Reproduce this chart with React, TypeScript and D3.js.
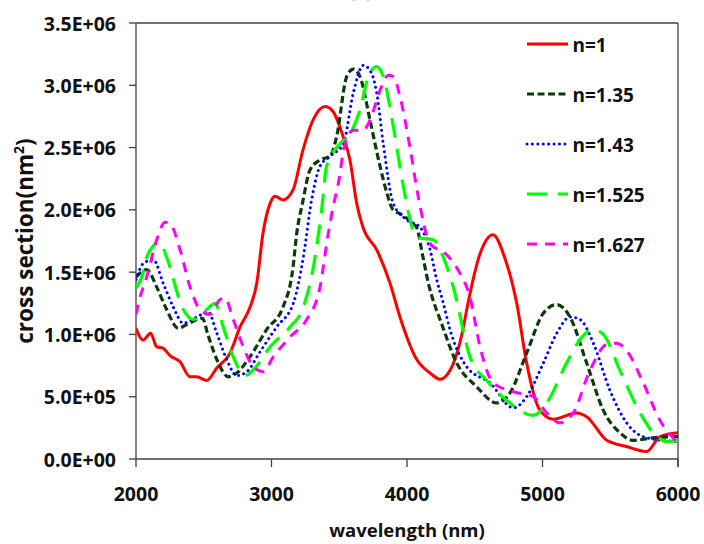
import React from "react";
import * as d3 from "d3";

// ---- data (values in units of 1E+06 nm^2) ----
const wlN1 = [2000, 2052, 2108, 2153, 2199, 2251, 2325, 2399, 2448, 2522, 2596, 2694, 2768, 2842, 2891, 2937, 2989, 3026, 3085, 3159, 3232, 3306, 3395, 3454, 3528, 3579, 3629, 3675, 3776, 3875, 3948, 4071, 4170, 4244, 4317, 4413, 4450, 4540, 4635, 4720, 4810, 4883, 4982, 5077, 5252, 5326, 5474, 5621, 5769, 5867, 6000];
const csN1 = [1.05, 0.955, 1.01, 0.9, 0.89, 0.83, 0.78, 0.66, 0.66, 0.63, 0.73, 0.85, 1.06, 1.22, 1.41, 1.81, 2.05, 2.11, 2.08, 2.16, 2.48, 2.72, 2.83, 2.79, 2.59, 2.4, 2.05, 1.86, 1.68, 1.41, 1.14, 0.8, 0.69, 0.64, 0.71, 1.04, 1.25, 1.65, 1.8, 1.62, 1.25, 0.77, 0.39, 0.32, 0.37, 0.34, 0.15, 0.1, 0.06, 0.18, 0.21];

const wlN135 = [2000, 2079, 2153, 2226, 2312, 2374, 2490, 2530, 2596, 2681, 2743, 2841, 2965, 3085, 3159, 3186, 3228, 3284, 3358, 3432, 3481, 3555, 3604, 3653, 3727, 3801, 3850, 3897, 3948, 4044, 4071, 4118, 4160, 4200, 4244, 4367, 4514, 4662, 4760, 4883, 5006, 5105, 5203, 5326, 5449, 5572, 5668, 5815, 6000];
const csN135 = [1.46, 1.52, 1.38, 1.2, 1.05, 1.08, 1.13, 1.0, 0.8, 0.66, 0.69, 0.82, 1.04, 1.22, 1.54, 1.81, 2.05, 2.32, 2.4, 2.43, 2.59, 3.07, 3.13, 3.07, 2.72, 2.35, 2.14, 2.0, 1.97, 1.89, 1.86, 1.62, 1.4, 1.25, 1.12, 0.77, 0.58, 0.45, 0.53, 0.85, 1.17, 1.24, 1.14, 0.77, 0.39, 0.21, 0.15, 0.17, 0.18];

const wlN143 = [2000, 2054, 2128, 2201, 2275, 2349, 2448, 2534, 2596, 2669, 2743, 2817, 2915, 3038, 3161, 3235, 3296, 3358, 3432, 3530, 3604, 3677, 3727, 3776, 3825, 3899, 3998, 4096, 4170, 4219, 4268, 4317, 4441, 4613, 4785, 4883, 5006, 5105, 5203, 5277, 5375, 5498, 5621, 5769, 6000];
const csN143 = [1.44, 1.57, 1.6, 1.41, 1.22, 1.09, 1.14, 1.18, 1.01, 0.8, 0.67, 0.7, 0.86, 1.06, 1.25, 1.62, 2.08, 2.35, 2.43, 2.53, 2.94, 3.16, 3.12, 2.94, 2.53, 2.05, 1.92, 1.86, 1.68, 1.44, 1.25, 1.04, 0.74, 0.61, 0.41, 0.5, 0.77, 1.01, 1.14, 1.12, 0.93, 0.55, 0.29, 0.17, 0.14];

const wlN1525 = [2000, 2042, 2091, 2177, 2226, 2349, 2423, 2522, 2583, 2644, 2718, 2804, 2878, 2989, 3137, 3235, 3309, 3370, 3407, 3506, 3579, 3653, 3715, 3776, 3825, 3899, 3973, 4071, 4120, 4194, 4268, 4342, 4465, 4588, 4736, 4932, 5031, 5178, 5277, 5375, 5449, 5572, 5720, 5818, 5917, 6000];
const csN1525 = [1.37, 1.46, 1.65, 1.74, 1.62, 1.2, 1.12, 1.2, 1.25, 1.06, 0.82, 0.67, 0.73, 0.9, 1.06, 1.22, 1.54, 2.0, 2.35, 2.53, 2.61, 2.8, 3.07, 3.15, 3.07, 2.67, 2.19, 1.78, 1.77, 1.76, 1.62, 1.38, 0.82, 0.63, 0.47, 0.35, 0.45, 0.77, 0.96, 1.04, 1.0, 0.71, 0.37, 0.21, 0.14, 0.15];

const wlN1627 = [2000, 2030, 2079, 2153, 2214, 2251, 2325, 2399, 2472, 2546, 2620, 2657, 2718, 2792, 2866, 2939, 3013, 3137, 3260, 3358, 3419, 3456, 3493, 3542, 3604, 3677, 3727, 3801, 3862, 3899, 3948, 4022, 4084, 4170, 4293, 4391, 4465, 4539, 4637, 4785, 4932, 5031, 5129, 5227, 5350, 5474, 5548, 5621, 5744, 5867, 6000];
const csN1627 = [1.16, 1.3, 1.46, 1.76, 1.9, 1.89, 1.68, 1.38, 1.2, 1.16, 1.28, 1.29, 1.12, 0.9, 0.74, 0.7, 0.82, 0.98, 1.12, 1.38, 1.81, 2.03, 2.21, 2.53, 2.64, 2.64, 2.72, 2.96, 3.08, 3.07, 2.91, 2.5, 2.1, 1.73, 1.64, 1.49, 1.3, 0.9, 0.61, 0.54, 0.5, 0.37, 0.29, 0.37, 0.71, 0.92, 0.93, 0.87, 0.61, 0.31, 0.13];

const seriesNames = ["n=1", "n=1.35", "n=1.43", "n=1.525", "n=1.627"];
const xTicks = [2000, 3000, 4000, 5000, 6000];
const yTicks = [0, 0.5e6, 1.0e6, 1.5e6, 2.0e6, 2.5e6, 3.0e6, 3.5e6];
const yTickLabels = ["0.0E+00", "5.0E+05", "1.0E+06", "1.5E+06", "2.0E+06", "2.5E+06", "3.0E+06", "3.5E+06"];

const seriesData = [
  { name: seriesNames[0], wl: wlN1, cs: csN1 },
  { name: seriesNames[1], wl: wlN135, cs: csN135 },
  { name: seriesNames[2], wl: wlN143, cs: csN143 },
  { name: seriesNames[3], wl: wlN1525, cs: csN1525 },
  { name: seriesNames[4], wl: wlN1627, cs: csN1627 },
];

const styles = [
  { color: "#ff0000", dash: "none", width: 3, cap: "butt" },
  { color: "#0b3a0b", dash: "7 3.5", width: 3.2, cap: "butt" },
  { color: "#0000ff", dash: "0.01 5.4", width: 3, cap: "round" },
  { color: "#00ff00", dash: "20 11", width: 3.2, cap: "butt" },
  { color: "#ff00ff", dash: "10 8", width: 3, cap: "butt" },
];

const W = 704;
const H = 544;
const L = 136, R = 678, T = 23, B = 459;
const FONT = "'Open Sans', 'Liberation Sans', sans-serif";

export default function App() {
  const x = d3.scaleLinear().domain([2000, 6000]).range([L, R]);
  const y = d3.scaleLinear().domain([0, 3.5e6]).range([B, T]);
  const line = d3
    .line<[number, number]>()
    .x((d) => x(d[0]))
    .y((d) => y(d[1]))
    .curve(d3.curveMonotoneX);

  return (
    <div style={{ position: "absolute", left: 0, top: 0 }}>
      <svg width={W} height={H} style={{ display: "block", background: "#fff" }}>
        <defs>
          <clipPath id="plotclip">
            <rect x={L} y={T - 5} width={R - L} height={B - T + 5} />
          </clipPath>
        </defs>
        {/* cropped panel label at the very top */}
        <text x={361} y={-3} textAnchor="middle" fontFamily={FONT} fontWeight="bold" fontSize={20} fill="#111">
          (c)
        </text>
        {/* frame */}
        <line x1={L} y1={T} x2={R} y2={T} stroke="#404040" strokeWidth={1.3} />
        <line x1={R} y1={T} x2={R} y2={B + 8} stroke="#404040" strokeWidth={1.3} />
        <line x1={L} y1={T} x2={L} y2={B} stroke="#404040" strokeWidth={1.3} />
        <line x1={L} y1={B} x2={R} y2={B} stroke="#404040" strokeWidth={1.3} />
        {yTicks.map((t, i) => (
          <g key={"y" + i}>
            <line x1={L - 7} x2={L} y1={y(t)} y2={y(t)} stroke="#404040" strokeWidth={1.3} />
            <text
              x={116}
              y={y(t)}
              textAnchor="end"
              dominantBaseline="central"
              fontFamily={FONT}
              fontWeight="bold"
              fontSize={19.5}
              fill="#111"
            >
              {yTickLabels[i]}
            </text>
          </g>
        ))}
        {xTicks.map((t, i) => (
          <g key={"x" + i}>
            <line x1={x(t)} x2={x(t)} y1={B} y2={B + 8} stroke="#404040" strokeWidth={1.3} />
            <text
              x={x(t)}
              y={493}
              textAnchor="middle"
              dominantBaseline="central"
              fontFamily={FONT}
              fontWeight="bold"
              fontSize={19.5}
              fill="#111"
            >
              {t}
            </text>
          </g>
        ))}
        {/* series */}
        <g clipPath="url(#plotclip)">
          {seriesData.map((s, i) => {
            const pts: [number, number][] = s.wl.map((w, j) => [w, s.cs[j] * 1e6]);
            const st = styles[i];
            return (
              <path
                key={s.name}
                d={line(pts) || ""}
                fill="none"
                stroke={st.color}
                strokeWidth={st.width}
                strokeDasharray={st.dash}
                strokeLinecap={st.cap as any}
                strokeLinejoin="round"
              />
            );
          })}
        </g>
        {/* legend */}
        {seriesData.map((s, i) => {
          const ly = 44 + i * 50;
          const st = styles[i];
          return (
            <g key={"lg" + i}>
              <line
                x1={527}
                x2={568}
                y1={ly}
                y2={ly}
                stroke={st.color}
                strokeWidth={st.width}
                strokeDasharray={st.dash}
                strokeLinecap={st.cap as any}
              />
              <text
                x={572.5}
                y={ly + 1}
                dominantBaseline="central"
                fontFamily={FONT}
                fontWeight="bold"
                fontSize={19}
                fill="#111"
              >
                {s.name}
              </text>
            </g>
          );
        })}
        {/* axis titles */}
        <text
          x={(L + R) / 2}
          y={537}
          textAnchor="middle"
          fontFamily={FONT}
          fontWeight="bold"
          fontSize={18.5}
          fill="#111"
        >
          wavelength (nm)
        </text>
        <text
          transform={`translate(33, ${(T + B) / 2}) rotate(-90)`}
          textAnchor="middle"
          fontFamily={FONT}
          fontWeight="bold"
          fontSize={22.5}
          fill="#111"
        >
          cross section(nm<tspan fontSize={14} dy={-9}>2</tspan>
          <tspan dy={9}>)</tspan>
        </text>
      </svg>
    </div>
  );
}
